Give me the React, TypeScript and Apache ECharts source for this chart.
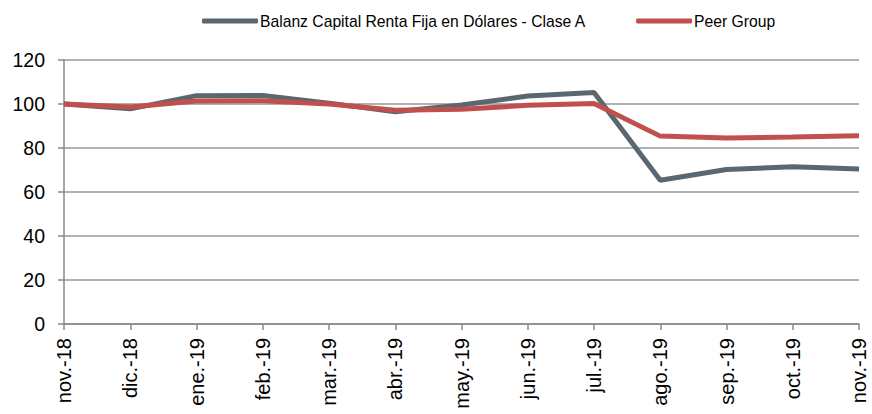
import React, { useEffect, useRef } from "react";
import * as echarts from "echarts";

const categories = ["nov.-18", "dic.-18", "ene.-19", "feb.-19", "mar.-19", "abr.-19", "may.-19", "jun.-19", "jul.-19", "ago.-19", "sep.-19", "oct.-19", "nov.-19"];
const balanzValues = [100, 97.8, 103.8, 103.9, 100.4, 96.5, 99.5, 103.6, 105.2, 65.3, 70.2, 71.5, 70.4];
const peerValues = [100, 98.6, 101.4, 101.5, 100, 97.2, 97.6, 99.4, 100.2, 85.4, 84.5, 85, 85.6];
const seriesNames = ["Balanz Capital Renta Fija en Dólares - Clase A", "Peer Group"];

export default function App() {
  const ref = useRef<HTMLDivElement>(null);
  useEffect(() => {
    const chart = echarts.init(ref.current!, null, { renderer: "svg" });
    const font = "'Liberation Sans', Arial, sans-serif";
    chart.setOption({
      animation: false,
      textStyle: { fontFamily: font },
      legend: {
        left: 197,
        top: 8,
        itemWidth: 56,
        itemHeight: 5,
        itemGap: 50,
        icon: "roundRect",
        textStyle: { fontFamily: font, fontSize: 15.7, color: "#000", padding: [0, 0, 0, -3] },
        data: seriesNames,
      },
      grid: { left: 64, right: 13, top: 60, bottom: 90 },
      xAxis: {
        type: "category",
        data: categories,
        boundaryGap: false,
        axisLine: { lineStyle: { color: "#888", width: 1.5 } },
        axisTick: { show: true, length: 6, lineStyle: { color: "#888", width: 1.5 } },
        axisLabel: { rotate: 90, fontSize: 20, color: "#000", fontFamily: font, margin: 14 },
      },
      yAxis: {
        type: "value",
        min: 0,
        max: 120,
        interval: 20,
        axisLine: { show: true, lineStyle: { color: "#888", width: 1.5 } },
        axisTick: { show: true, length: 6, lineStyle: { color: "#888", width: 1.5 } },
        axisLabel: { fontSize: 19.5, color: "#000", fontFamily: font, margin: 19 },
        splitLine: { lineStyle: { color: "#999", width: 1.5 } },
      },
      series: [
        {
          name: seriesNames[0],
          type: "line",
          data: balanzValues,
          symbol: "none",
          lineStyle: { color: "#5B6770", width: 5 },
          itemStyle: { color: "#5B6770" },
        },
        {
          name: seriesNames[1],
          type: "line",
          data: peerValues,
          symbol: "none",
          lineStyle: { color: "#C0504D", width: 5 },
          itemStyle: { color: "#C0504D" },
        },
      ],
    });
    return () => chart.dispose();
  }, []);
  return <div ref={ref} style={{ width: 872, height: 414, position: "absolute", left: 0, top: 0 }} />;
}
